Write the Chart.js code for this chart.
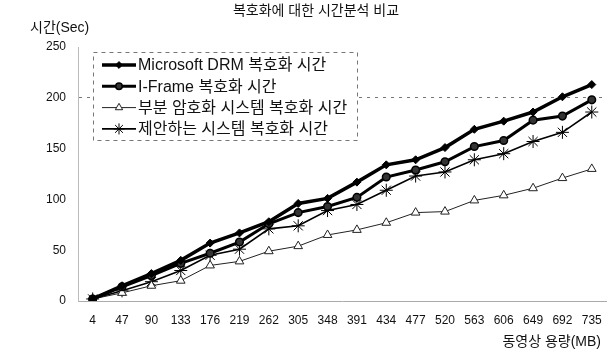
<!DOCTYPE html>
<html lang="ko">
<head>
<meta charset="utf-8">
<title>복호화에 대한 시간분석 비교</title>
<script src="https://cdn.jsdelivr.net/npm/chart.js@4.4.1/dist/chart.umd.min.js"></script>
<style>
  html, body { margin: 0; padding: 0; background: #fff; }
  canvas { display: block; }
</style>
</head>
<body>
<canvas id="chart" width="614" height="355"></canvas>
<script>
// Video size (MB) on the x axis
const sizes = ['4', '47', '90', '133', '176', '219', '262', '305', '348', '391', '434', '477', '520', '563', '606', '649', '692', '735'];

// Decryption time (seconds) per method
const drmTimes      = [2, 15, 27, 40, 57, 67, 78, 96, 101, 117, 134, 139, 151, 169, 177, 186, 201, 213];
const iFrameTimes   = [2, 14, 25, 37, 47, 58, 76, 87, 93, 102, 122, 129, 137, 152, 158, 178, 182, 198];
const partialTimes  = [2, 8, 15, 20, 35, 39, 49, 54, 65, 70, 77, 87, 88, 99, 104, 111, 121, 130];
const proposedTimes = [2, 10, 19, 30, 45, 51, 71, 74, 89, 95, 109, 123, 127, 139, 145, 157, 166, 186];

const seriesLabels = [
  'Microsoft DRM 복호화 시간',
  'I-Frame 복호화 시간',
  '부분 암호화 시스템 복호화 시간',
  '제안하는 시스템 복호화 시간'
];

const chartTitle = '복호화에 대한 시간분석 비교';
const yTitle = '시간(Sec)';
const xTitle = '동영상 용량(MB)';

const FONT = "'Liberation Sans', 'Noto Sans CJK KR', Arial, sans-serif";

// Titles drawn as plain canvas text
const titlesPlugin = {
  id: 'titles',
  afterDraw(chart) {
    const ctx = chart.ctx;
    ctx.save();
    ctx.fillStyle = '#111';
    ctx.textBaseline = 'middle';
    ctx.font = '14px ' + FONT;
    ctx.textAlign = 'center';
    ctx.fillText(chartTitle, 316, 11);
    ctx.textAlign = 'left';
    ctx.fillText(yTitle, 30, 28);
    ctx.textAlign = 'right';
    ctx.fillText(xTitle, 601, 342);
    ctx.restore();
  }
};

// Boxed legend inside the plot area, dashed border, line + marker samples
const boxLegendPlugin = {
  id: 'boxLegend',
  afterDatasetsDraw(chart) {
    const ctx = chart.ctx;
    const area = chart.chartArea;
    const left = area.left + 15;
    const top = area.top + 5;
    const width = 264;
    const height = 88;
    ctx.save();
    ctx.fillStyle = '#fff';
    ctx.fillRect(left, top, width, height);
    ctx.setLineDash([4, 4]);
    ctx.strokeStyle = '#777';
    ctx.lineWidth = 1;
    ctx.strokeRect(left + 0.5, top + 0.5, width, height);
    ctx.setLineDash([]);

    ctx.font = '16px ' + FONT;
    ctx.textBaseline = 'middle';
    ctx.textAlign = 'left';
    chart.data.datasets.forEach((ds, i) => {
      const y = top + 13 + i * 21.3;
      const x0 = left + 9;
      const x1 = left + 43;
      ctx.strokeStyle = ds.borderColor;
      ctx.lineWidth = ds.borderWidth;
      ctx.beginPath();
      ctx.moveTo(x0, y);
      ctx.lineTo(x1, y);
      ctx.stroke();
      ctx.fillStyle = ds.pointBackgroundColor;
      ctx.strokeStyle = ds.pointBorderColor;
      ctx.lineWidth = ds.pointBorderWidth;
      Chart.helpers.drawPoint(ctx, {
        pointStyle: ds.pointStyle,
        radius: ds.pointRadius * 0.85,
        rotation: 0,
        borderWidth: ds.pointBorderWidth
      }, (x0 + x1) / 2, y);
      ctx.fillStyle = '#111';
      ctx.fillText(ds.label, x1 + 2, y + 1);
    });
    ctx.restore();
  }
};

new Chart(document.getElementById('chart'), {
  type: 'line',
  data: {
    labels: sizes,
    datasets: [
      {
        label: seriesLabels[0],
        data: drmTimes,
        borderColor: '#000',
        borderWidth: 3.5,
        pointStyle: 'rectRot',
        pointRadius: 4,
        pointBackgroundColor: '#000',
        pointBorderColor: '#000',
        pointBorderWidth: 1
      },
      {
        label: seriesLabels[1],
        data: iFrameTimes,
        borderColor: '#000',
        borderWidth: 3,
        pointStyle: 'circle',
        pointRadius: 3.8,
        pointBackgroundColor: '#333',
        pointBorderColor: '#000',
        pointBorderWidth: 1.5
      },
      {
        label: seriesLabels[2],
        data: partialTimes,
        borderColor: '#222',
        borderWidth: 1,
        pointStyle: 'triangle',
        pointRadius: 5,
        pointBackgroundColor: '#fff',
        pointBorderColor: '#222',
        pointBorderWidth: 1
      },
      {
        label: seriesLabels[3],
        data: proposedTimes,
        borderColor: '#000',
        borderWidth: 1.6,
        pointStyle: 'star',
        pointRadius: 6.5,
        pointBackgroundColor: '#fff',
        pointBorderColor: '#000',
        pointBorderWidth: 1
      }
    ]
  },
  options: {
    responsive: false,
    animation: false,
    devicePixelRatio: 1,
    layout: { padding: { top: 47, right: 6, left: 0, bottom: 0 } },
    plugins: {
      legend: { display: false },
      title: { display: false },
      tooltip: { enabled: false }
    },
    elements: { line: { tension: 0 } },
    scales: {
      x: {
        type: 'category',
        offset: true,
        afterFit(scale) { scale.height = 54; },
        grid: { display: false, drawTicks: false },
        border: { display: true, color: '#aaa', dash: [3, 6], width: 1 },
        ticks: {
          padding: 12,
          autoSkip: false,
          maxRotation: 0,
          color: '#111',
          font: { family: FONT, size: 12 }
        }
      },
      y: {
        min: 0,
        max: 250,
        afterFit(scale) { scale.width = 78; },
        grid: {
          drawTicks: false,
          color: (c) => (c.tick && c.tick.value === 200 ? '#777' : 'rgba(0,0,0,0)'),
          lineWidth: 1
        },
        border: { display: true, color: '#bbb', dash: [3, 5], width: 1 },
        ticks: {
          stepSize: 50,
          padding: 12,
          color: '#111',
          font: { family: FONT, size: 12 }
        }
      }
    }
  },
  plugins: [boxLegendPlugin, titlesPlugin]
});
</script>
</body>
</html>
